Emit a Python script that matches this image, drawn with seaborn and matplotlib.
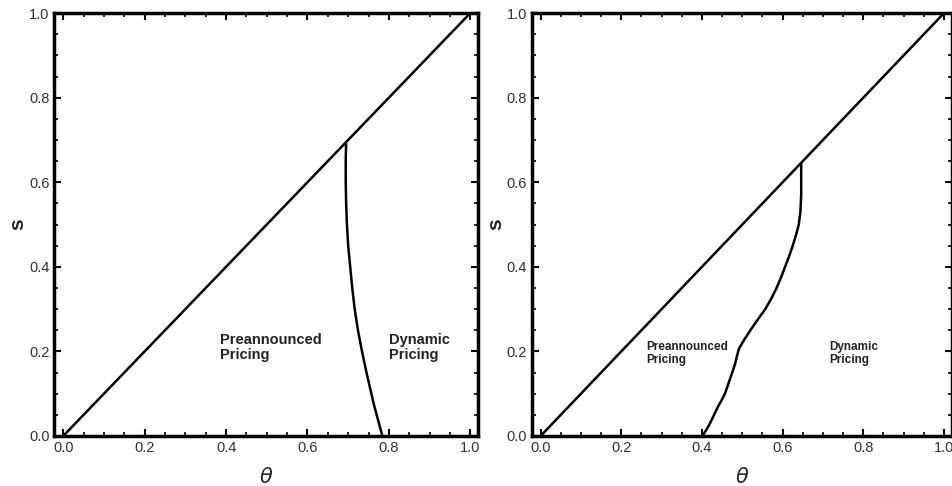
"""Pricing regime boundaries in the (theta, s) plane, two parameter cases."""

import matplotlib.pyplot as plt
import pandas as pd
import seaborn as sns
from matplotlib.ticker import MultipleLocator

# diagonal s = theta
DIAG_THETA = [0.0, 1.0]
DIAG_S = [0.0, 1.0]

# left panel: boundary between preannounced and dynamic pricing
LEFT_THETA = [0.695, 0.694, 0.694, 0.695, 0.697, 0.700, 0.705, 0.710, 0.716,
              0.724, 0.734, 0.745, 0.757, 0.763, 0.770, 0.777, 0.784]
LEFT_S = [0.695, 0.65, 0.60, 0.55, 0.50, 0.45, 0.40, 0.35, 0.30,
          0.25, 0.20, 0.15, 0.10, 0.075, 0.05, 0.025, 0.0]

# right panel boundary
RIGHT_THETA = [0.401, 0.410, 0.420, 0.430, 0.440, 0.449, 0.457, 0.466, 0.475,
               0.482, 0.487, 0.492, 0.505, 0.520, 0.538, 0.557, 0.572,
               0.585, 0.596, 0.606, 0.616, 0.625, 0.633, 0.640, 0.644,
               0.646, 0.646]
RIGHT_S = [0.0, 0.013, 0.030, 0.050, 0.070, 0.085, 0.100, 0.125, 0.150,
           0.170, 0.190, 0.207, 0.228, 0.250, 0.275, 0.300, 0.325,
           0.350, 0.375, 0.400, 0.425, 0.450, 0.475, 0.500, 0.530,
           0.570, 0.645]

PANELS = [
    {"theta": LEFT_THETA, "s": LEFT_S,
     "labels": [(0.386, 0.21, "Preannounced\nPricing"), (0.80, 0.21, "Dynamic\nPricing")],
     "fontsize": 10.5, "pos": [0.057, 0.103, 0.445, 0.870]},
    {"theta": RIGHT_THETA, "s": RIGHT_S,
     "labels": [(0.262, 0.195, "Preannounced\nPricing"), (0.715, 0.195, "Dynamic\nPricing")],
     "fontsize": 8.5, "pos": [0.558, 0.103, 0.441, 0.870]},
]


def style_axes(ax):
    ax.set_xlim(-0.022, 1.02)
    ax.set_ylim(0.0, 1.0)
    ax.xaxis.set_major_locator(MultipleLocator(0.2))
    ax.yaxis.set_major_locator(MultipleLocator(0.2))
    ax.xaxis.set_minor_locator(MultipleLocator(0.05))
    ax.yaxis.set_minor_locator(MultipleLocator(0.05))
    ax.xaxis.set_major_formatter(plt.FormatStrFormatter("%.1f"))
    ax.yaxis.set_major_formatter(plt.FormatStrFormatter("%.1f"))
    ax.tick_params(which="both", direction="in", top=True, right=True,
                   labelsize=10.5, labelcolor="#333333", color="black")
    ax.tick_params(which="major", length=5, width=1.5)
    ax.tick_params(which="minor", length=3, width=1.2)
    for spine in ax.spines.values():
        spine.set_visible(True)
        spine.set_linewidth(2.5)
        spine.set_color("black")
    ax.set_xlabel(r"$\theta$", fontsize=15, labelpad=9)
    ax.set_ylabel("s", fontsize=15, fontweight="bold", labelpad=1)


def main():
    sns.set_style("ticks")
    plt.rcParams["font.family"] = ["Liberation Sans", "DejaVu Sans"]
    plt.rcParams["mathtext.fontset"] = "dejavusans"

    fig = plt.figure(figsize=(9.53, 4.86), dpi=100)
    diag = pd.DataFrame({"theta": DIAG_THETA, "s": DIAG_S})

    for panel in PANELS:
        ax = fig.add_axes(panel["pos"])
        sns.lineplot(data=diag, x="theta", y="s", color="black", linewidth=1.8, ax=ax)
        curve = pd.DataFrame({"theta": panel["theta"], "s": panel["s"]})
        sns.lineplot(data=curve, x="theta", y="s", sort=False, estimator=None,
                     color="black", linewidth=1.8, ax=ax)
        for x, y, txt in panel["labels"]:
            ax.text(x, y, txt, fontsize=panel["fontsize"], fontweight="bold",
                    color="#222222", ha="left", va="center", linespacing=1.1)
        style_axes(ax)

    fig.savefig("out.png", dpi=100)
    plt.close(fig)


if __name__ == "__main__":
    main()
